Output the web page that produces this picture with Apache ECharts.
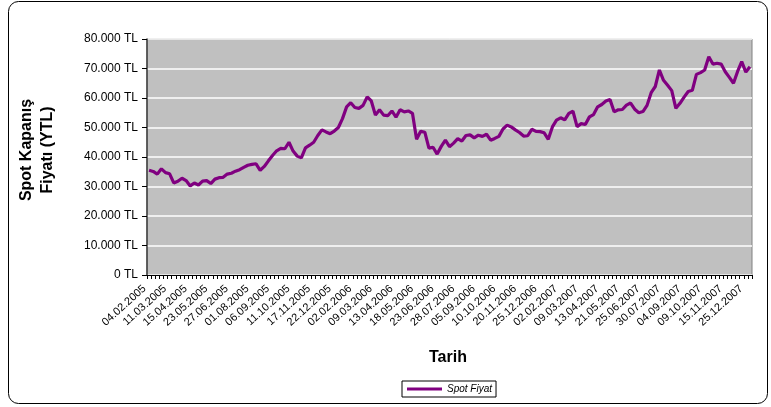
<!DOCTYPE html>
<html>
<head>
<meta charset="utf-8">
<style>
  html, body { margin: 0; padding: 0; background: #ffffff; }
  #chart { width: 771px; height: 407px; }
</style>
<script src="https://cdn.jsdelivr.net/npm/echarts@6/dist/echarts.min.js"></script>
</head>
<body>
<div id="chart"></div>
<script>
// Dates shown under the x axis (one every five weekly points)
const tickLabels = [
  '04.02.2005', '11.03.2005', '15.04.2005', '23.05.2005', '27.06.2005',
  '01.08.2005', '06.09.2005', '11.10.2005', '17.11.2005', '22.12.2005',
  '02.02.2006', '09.03.2006', '13.04.2006', '18.05.2006', '23.06.2006',
  '28.07.2006', '05.09.2006', '10.10.2006', '20.11.2006', '25.12.2006',
  '02.02.2007', '09.03.2007', '13.04.2007', '21.05.2007', '25.06.2007',
  '30.07.2007', '04.09.2007', '09.10.2007', '15.11.2007', '25.12.2007'
];

// Weekly spot closing price (YTL)
const spotFiyat = [
  35500, 35100, 34200, 36000, 34700, 34300, 31200, 31800, 32800, 32000,
  30200, 31200, 30500, 31800, 32000, 31000, 32500, 33000, 33100, 34200,
  34500, 35200, 35700, 36500, 37200, 37500, 37700, 35500, 36800, 38700,
  40500, 42100, 42900, 42800, 45000, 42000, 40300, 39700, 43100, 44000,
  45000, 47300, 49200, 48500, 47900, 48800, 50000, 53000, 57000, 58400,
  56800, 56500, 57500, 60400, 59000, 54200, 56000, 54200, 54000, 55600,
  53500, 56000, 55300, 55600, 54800, 46000, 48700, 48400, 43000, 43300,
  41000, 43600, 45700, 43500, 44700, 46200, 45400, 47300, 47500, 46500,
  47400, 47000, 47700, 45700, 46300, 47000, 49500, 50800, 50200, 49200,
  48300, 47100, 47200, 49400, 48700, 48600, 48200, 46000, 50200, 52500,
  53300, 52600, 54800, 55500, 50300, 51300, 51000, 53600, 54400, 57000,
  57800, 59000, 59500, 55300, 56000, 56100, 57600, 58300, 56200, 55000,
  55400, 57500, 61800, 63900, 69500, 66000, 64300, 62500, 56500, 58200,
  60300, 62200, 62600, 68000, 68600, 69500, 74000, 71500, 71800, 71500,
  68900, 67000, 65000, 69000, 72300, 68800, 70600
];

const seriesName = 'Spot Fiyat';
const yAxisTitle = 'Spot Kapanış\nFiyatı (YTL)';
const xAxisTitle = 'Tarih';

// Weekly category dates: each labelled date followed by its following weeks
function pad(n) { return (n < 10 ? '0' : '') + n; }
function addDays(s, d) {
  const p = s.split('.');
  const dt = new Date(Date.UTC(+p[2], +p[1] - 1, +p[0] + d));
  return pad(dt.getUTCDate()) + '.' + pad(dt.getUTCMonth() + 1) + '.' + dt.getUTCFullYear();
}
const categories = [];
tickLabels.forEach(function (lbl, i) {
  const steps = i < tickLabels.length - 1 ? 5 : spotFiyat.length - 5 * i;
  for (let j = 0; j < steps; j++) categories.push(addDays(lbl, 7 * j));
});

const chart = echarts.init(document.getElementById('chart'), null, { renderer: 'canvas' });

const FONT = '"Liberation Sans", Arial, sans-serif';

chart.setOption({
  animation: false,
  backgroundColor: '#ffffff',
  grid: {
    left: 147, top: 39, right: 19, bottom: 132,
    show: true,
    backgroundColor: '#c0c0c0',
    borderColor: '#808080',
    borderWidth: 1
  },
  legend: {
    data: [seriesName],
    left: 402, top: 381,
    orient: 'horizontal',
    padding: [3, 4, 3, 5],
    borderColor: '#000000',
    borderWidth: 1,
    itemWidth: 35,
    itemHeight: 3,
    icon: 'rect',
    textStyle: { fontFamily: FONT, fontSize: 10, fontStyle: 'italic', color: '#000' }
  },
  xAxis: {
    type: 'category',
    data: categories,
    boundaryGap: true,
    axisLine: { lineStyle: { color: '#000000', width: 1 } },
    axisTick: { show: true, interval: 0, length: 4, lineStyle: { color: '#000' } },
    axisLabel: {
      interval: 4,
      rotate: 42,
      margin: 8,
      fontFamily: FONT,
      fontSize: 11,
      color: '#000',
      formatter: function (v) { return v + '  '; }
    },
    splitLine: { show: false }
  },
  yAxis: {
    type: 'value',
    min: 0, max: 80000, interval: 10000,
    axisLine: { show: true, lineStyle: { color: '#404040', width: 1.5 } },
    axisTick: { show: true, length: 5, lineStyle: { color: '#000' } },
    axisLabel: {
      margin: 9,
      fontFamily: FONT,
      fontSize: 12,
      color: '#000',
      formatter: function (v) { return v === 0 ? '0 TL' : (v / 1000) + '.000 TL'; }
    },
    splitLine: { show: true, lineStyle: { color: '#ffffff', width: 1.5 } }
  },
  series: [{
    name: seriesName,
    type: 'line',
    data: spotFiyat,
    showSymbol: false,
    symbol: 'none',
    lineStyle: { color: '#800080', width: 3.2 },
    itemStyle: { color: '#800080' }
  }],
  graphic: [
    {
      type: 'rect',
      shape: { x: 8.5, y: 1.5, width: 759, height: 402, r: 10 },
      style: { fill: 'none', stroke: '#000000', lineWidth: 1 },
      silent: true, z: -1
    },
    {
      type: 'text',
      x: 37, y: 150,
      rotation: Math.PI / 2,
      style: {
        text: yAxisTitle,
        font: 'bold 16px ' + FONT,
        lineHeight: 21,
        fill: '#000',
        textAlign: 'center',
        textVerticalAlign: 'middle'
      }
    },
    {
      type: 'text',
      x: 448, y: 358,
      style: {
        text: xAxisTitle,
        font: 'bold 16px ' + FONT,
        fill: '#000',
        textAlign: 'center',
        textVerticalAlign: 'middle'
      }
    }
  ]
});
</script>
</body>
</html>
